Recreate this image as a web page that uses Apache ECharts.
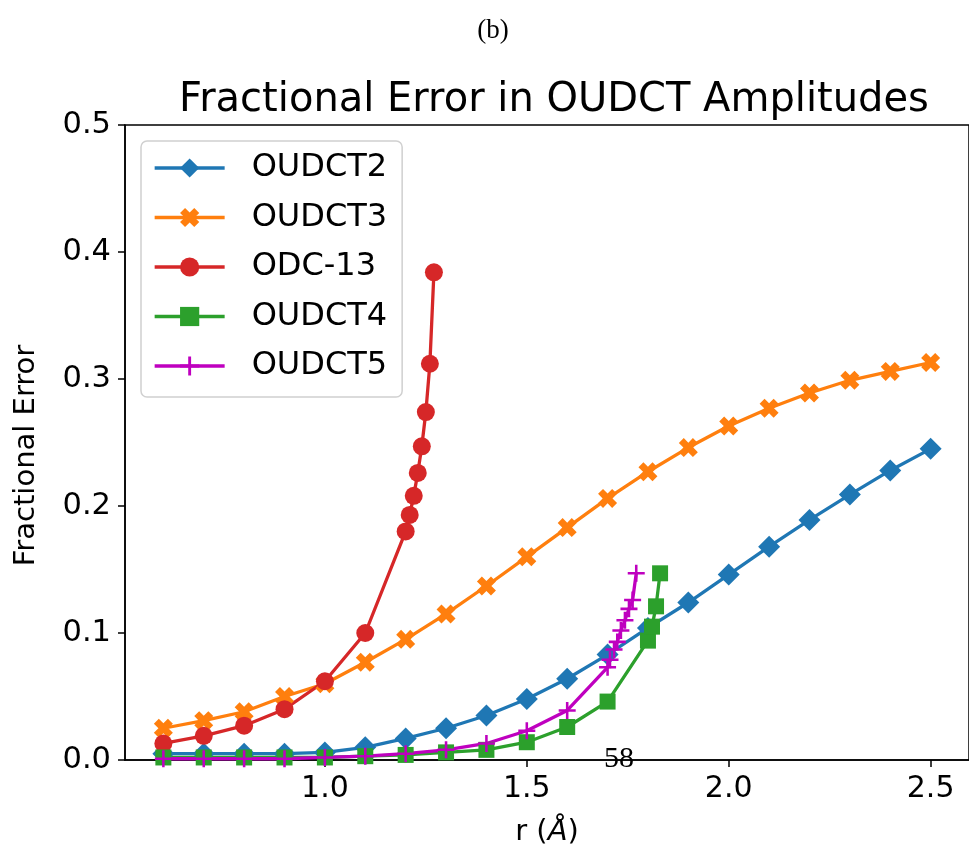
<!DOCTYPE html>
<html>
<head>
<meta charset="utf-8">
<script src="https://cdn.jsdelivr.net/npm/echarts@6/dist/echarts.min.js"></script>
<style>
  html, body { margin: 0; padding: 0; background: #fff; }
  #chart { width: 969px; height: 854px; }
</style>
</head>
<body>
<div id="chart"></div>
<script>
// r grid shared by OUDCT2 / OUDCT3
const rFull = [0.6, 0.7, 0.8, 0.9, 1.0, 1.1, 1.2, 1.3, 1.4, 1.5, 1.6, 1.7, 1.8, 1.9, 2.0, 2.1, 2.2, 2.3, 2.4, 2.5];
const oudct2 = [0.005, 0.005, 0.005, 0.005, 0.006, 0.010, 0.017, 0.025, 0.035, 0.048, 0.064, 0.083, 0.104, 0.124, 0.146, 0.168, 0.189, 0.209, 0.228, 0.245];
const oudct3 = [0.025, 0.031, 0.038, 0.050, 0.060, 0.077, 0.095, 0.115, 0.137, 0.160, 0.183, 0.206, 0.227, 0.246, 0.263, 0.277, 0.289, 0.299, 0.306, 0.313];

const rOdc13 = [0.6, 0.7, 0.8, 0.9, 1.0, 1.1, 1.2, 1.21, 1.22, 1.23, 1.24, 1.25, 1.26, 1.27];
const odc13 = [0.013, 0.019, 0.027, 0.040, 0.062, 0.100, 0.180, 0.193, 0.208, 0.226, 0.247, 0.274, 0.312, 0.384];

const rOudct4 = [0.6, 0.7, 0.8, 0.9, 1.0, 1.1, 1.2, 1.3, 1.4, 1.5, 1.6, 1.7, 1.8, 1.81, 1.82, 1.83];
const oudct4 = [0.002, 0.002, 0.002, 0.002, 0.002, 0.003, 0.004, 0.006, 0.008, 0.014, 0.026, 0.046, 0.094, 0.105, 0.121, 0.147];

const rOudct5 = [0.6, 0.7, 0.8, 0.9, 1.0, 1.1, 1.2, 1.3, 1.4, 1.5, 1.6, 1.7, 1.706, 1.716, 1.724, 1.733, 1.743, 1.753, 1.762, 1.771];
const oudct5 = [0.001, 0.001, 0.001, 0.001, 0.002, 0.003, 0.005, 0.008, 0.013, 0.023, 0.039, 0.073, 0.079, 0.087, 0.093, 0.102, 0.110, 0.119, 0.126, 0.147];

const xTicks = [1.0, 1.5, 2.0, 2.5];

const pairs = (xs, ys) => xs.map((x, i) => [x, ys[i]]);

const FONT = 'DejaVu Sans';
const xMark = 'path://M0,2.6 L2.6,0 L5,2.4 L7.4,0 L10,2.6 L7.6,5 L10,7.4 L7.4,10 L5,7.6 L2.6,10 L0,7.4 L2.4,5 Z';
const plusMark = 'path://M4.25,0 L5.75,0 L5.75,4.25 L10,4.25 L10,5.75 L5.75,5.75 L5.75,10 L4.25,10 L4.25,5.75 L0,5.75 L0,4.25 L4.25,4.25 Z';

function line(name, color, symbol, size, data) {
  return {
    name: name,
    type: 'line',
    data: data,
    symbol: symbol,
    symbolSize: size,
    showAllSymbol: true,
    animation: false,
    lineStyle: { color: color, width: 3.3 },
    itemStyle: { color: color, borderWidth: 0 },
    emphasis: { disabled: true }
  };
}

const chart = echarts.init(document.getElementById('chart'));
chart.setOption({
  backgroundColor: '#fff',
  animation: false,
  textStyle: { fontFamily: FONT },
  title: {
    text: 'Fractional Error in OUDCT Amplitudes',
    left: 549,
    textAlign: 'center',
    top: 76,
    textStyle: { fontFamily: FONT, fontSize: 40, fontWeight: 'normal', color: '#000' }
  },
  grid: {
    left: 125, right: -7, top: 125, bottom: 94,
    show: true, borderColor: '#000', borderWidth: 1.5,
    containLabel: false
  },
  legend: {
    orient: 'vertical',
    left: 141,
    top: 141,
    padding: [11, 15, 15, 12],
    itemWidth: 70,
    itemHeight: 24,
    itemGap: 17.5,
    backgroundColor: '#fff',
    borderColor: '#d0d0d0',
    borderWidth: 1.5,
    borderRadius: 6,
    lineStyle: { width: 3.3 },
    textStyle: { fontFamily: FONT, fontSize: 32, color: '#000', lineHeight: 32, padding: [0, 0, 0, 22] },
    data: ['OUDCT2', 'OUDCT3', 'ODC-13', 'OUDCT4', 'OUDCT5']
  },
  xAxis: {
    type: 'value',
    min: 0.505,
    max: 2.595,
    name: '{n|r (}{i|Å}{n|)}',
    nameLocation: 'middle',
    nameGap: 58,
    nameTextStyle: {
      rich: {
        n: { fontFamily: FONT, fontSize: 29, color: '#000' },
        i: { fontFamily: FONT, fontSize: 29, fontStyle: 'italic', color: '#000' }
      }
    },
    axisLine: { show: true, lineStyle: { color: '#000', width: 1.5 } },
    axisTick: { show: true, length: 7, lineStyle: { color: '#000', width: 1.5 }, customValues: xTicks },
    axisLabel: {
      fontFamily: FONT, fontSize: 30, color: '#000', margin: 14,
      customValues: xTicks,
      formatter: v => v.toFixed(1)
    },
    splitLine: { show: false }
  },
  yAxis: {
    type: 'value',
    min: 0,
    max: 0.5,
    interval: 0.1,
    name: 'Fractional Error',
    nameLocation: 'middle',
    nameGap: 84,
    nameTextStyle: { fontFamily: FONT, fontSize: 29, color: '#000', padding: [0, 26, 0, 0] },
    axisLine: { show: true, lineStyle: { color: '#000', width: 1.5 } },
    axisTick: { show: true, length: 7, lineStyle: { color: '#000', width: 1.5 } },
    axisLabel: {
      fontFamily: FONT, fontSize: 30.5, color: '#000', margin: 14,
      formatter: v => v.toFixed(1)
    },
    splitLine: { show: false }
  },
  graphic: [
    {
      type: 'text', x: 493, y: 31,
      style: { text: '(b)', fontFamily: 'Liberation Serif', fontSize: 27, fill: '#000', align: 'center', verticalAlign: 'middle' }
    },
    {
      type: 'text', x: 619, y: 759, z: 100,
      style: { text: '58', fontFamily: 'Liberation Serif', fontSize: 30, fill: '#000', align: 'center', verticalAlign: 'middle' }
    }
  ],
  series: [
    line('OUDCT2', '#1f77b4', 'diamond', 22, pairs(rFull, oudct2)),
    line('OUDCT3', '#ff7f0e', xMark, 19, pairs(rFull, oudct3)),
    line('ODC-13', '#d62728', 'circle', 18, pairs(rOdc13, odc13)),
    line('OUDCT4', '#2ca02c', 'rect', 16, pairs(rOudct4, oudct4)),
    line('OUDCT5', '#bf00bf', plusMark, 17, pairs(rOudct5, oudct5))
  ]
});
</script>
</body>
</html>
